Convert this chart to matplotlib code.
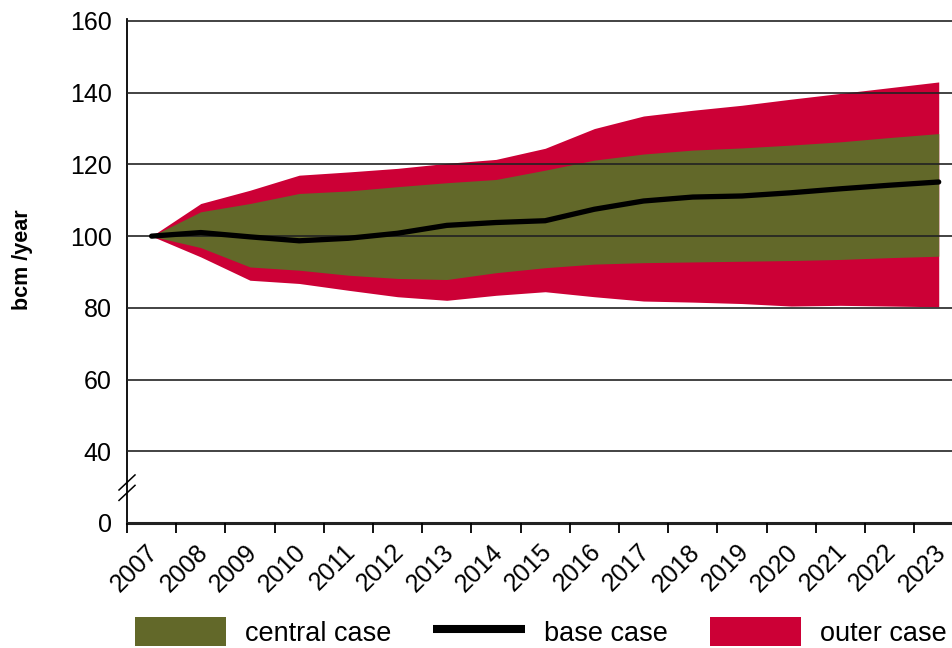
import matplotlib
matplotlib.use("Agg")
import matplotlib.pyplot as plt
from matplotlib.patches import Patch
from matplotlib.lines import Line2D

# --- дані ---
years = [str(y) for y in range(2007, 2024)]
base_case = [100, 101, 99.8, 98.7, 99.4, 100.8, 103, 103.8, 104.3, 107.5,
             109.8, 110.9, 111.2, 112.1, 113.2, 114.2, 115.1]
central_upper = [100, 106.8, 109.1, 111.9, 112.6, 113.8, 114.9, 115.8, 118.4, 121.2,
                 122.9, 124, 124.6, 125.4, 126.3, 127.5, 128.6]
central_lower = [100, 96.8, 91.4, 90.5, 89.1, 88.2, 87.9, 89.8, 91.2, 92.2,
                 92.6, 92.8, 93, 93.2, 93.5, 94, 94.4]
outer_upper = [100, 109.1, 112.8, 117, 117.9, 118.9, 120.3, 121.4, 124.5, 130,
               133.5, 135.1, 136.5, 138.2, 139.8, 141.4, 143]
outer_lower = [100, 94.2, 87.7, 86.8, 84.9, 83.1, 82.1, 83.5, 84.5, 83.1,
               81.9, 81.6, 81.2, 80.5, 80.7, 80.5, 80.3]
y_ticks = [20, 40, 60, 80, 100, 120, 140, 160]
y_tick_labels = ["0", "40", "60", "80", "100", "120", "140", "160"]

OLIVE = "#626829"
RED = "#CC0036"
FONT = 18
LEG_FONT = 19.5
LABEL_SHIFT = 0.234  # зсув підписів років праворуч (частка категорії)

plt.rcParams["font.family"] = ["Liberation Sans", "DejaVu Sans"]

fig = plt.figure(figsize=(9.52, 6.48), dpi=100)
ax = fig.add_axes([127 / 952, 1 - 523 / 648, 1 - 127 / 952, (523 - 19.2) / 648])

x = list(range(len(years)))

# зовнішній діапазон, потім центральний, потім базова лінія
ax.fill_between(x, outer_lower, outer_upper, color=RED, lw=0, zorder=1)
ax.fill_between(x, central_lower, central_upper, color=OLIVE, lw=0, zorder=1.2)
ax.plot(x, base_case, color="black", lw=3.8, solid_capstyle="round",
        solid_joinstyle="round", zorder=3)

# осі
for s in ["top", "right"]:
    ax.spines[s].set_visible(False)
ax.spines["left"].set_linewidth(1.3)
ax.spines["bottom"].set_linewidth(2.2)
ax.spines["bottom"].set_color("#222222")

ax.set_yticks(y_ticks)
ax.set_yticklabels(y_tick_labels, fontsize=FONT)
ax.tick_params(axis="y", length=0, pad=11)
ax.yaxis.grid(True, color="#222222", lw=1.2)
ax.set_axisbelow(False)
# лінія сітки на 20 (це "0") не потрібна
ax.get_ygridlines()[0].set_visible(False)

# підписи років (без рисок), риски на межах категорій
ax.set_xticks([i + LABEL_SHIFT for i in x])
ax.set_xticklabels(years, fontsize=FONT, rotation=45, ha="right")
ax.set_xticks([i - 0.5 for i in range(len(years) + 1)], minor=True)
ax.tick_params(axis="x", which="major", length=0, pad=12)
ax.tick_params(axis="x", which="minor", length=7.5, width=1.3, direction="out")

# межі після set_xticks (інакше вони розширюються)
ax.set_xlim(-0.5, 16.27)
ax.set_ylim(20, 160.5)

ax.set_ylabel("bcm /year", fontsize=15.5, fontweight="bold", labelpad=0)
ax.yaxis.set_label_coords((33 - 127) / 825, (523 - 260) / (523 - 19.2))

# знак розриву осі
trans = ax.get_yaxis_transform()
dx = 8 / 825
for yc in [31.3, 28.4]:
    ax.plot([-dx, dx], [yc - 2.1, yc + 2.1], color="black", lw=1.1,
            transform=trans, clip_on=False, zorder=4)

handles = [
    Patch(facecolor=OLIVE, edgecolor="none", label="central case"),
    Line2D([0], [0], color="black", lw=5.8, solid_capstyle="butt", label="base case"),
    Patch(facecolor=RED, edgecolor="none", label="outer case"),
]
fig.legend(handles=handles, loc="center", bbox_to_anchor=(0.568, 1 - 632 / 648),
           ncol=3, frameon=False, fontsize=LEG_FONT, handlelength=3.37,
           handleheight=1.22, handletextpad=0.7, columnspacing=1.55,
           borderaxespad=0, borderpad=0)

fig.savefig("out.png", dpi=100)
